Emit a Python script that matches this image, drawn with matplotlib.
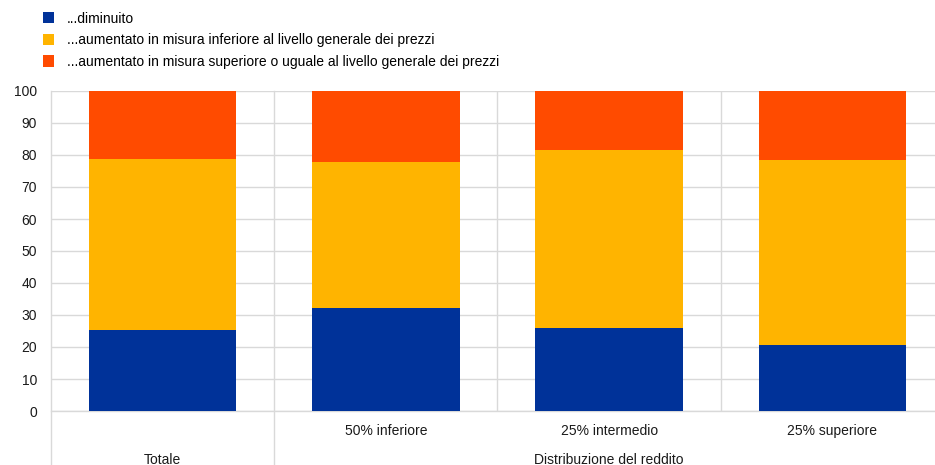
import matplotlib
matplotlib.use("Agg")
import matplotlib.pyplot as plt
from matplotlib.patches import Patch
import numpy as np

plt.rcParams['font.family'] = ['Liberation Sans', 'DejaVu Sans']

categories = ["", "50% inferiore", "25% intermedio", "25% superiore"]
group_labels = ["Totale", "Distribuzione del reddito"]
series_names = ["...diminuito",
                "...aumentato in misura inferiore al livello generale dei prezzi",
                "...aumentato in misura superiore o uguale al livello generale dei prezzi"]
diminuito = [25.3, 32.2, 25.8, 20.6]
aum_inferiore = [53.4, 45.6, 55.7, 57.9]
aum_superiore = [21.3, 22.2, 18.5, 21.5]
colors = ["#003299", "#FFB400", "#FF4B00"]
yticks = [0, 10, 20, 30, 40, 50, 60, 70, 80, 90, 100]

FS = 10
TC = "#1a1a1a"
W, H = 935, 465
fig = plt.figure(figsize=(W / 100, H / 100), dpi=100)
ax = fig.add_axes([51 / W, (H - 411) / H, (935 - 51) / W, 320 / H])

x = np.arange(len(categories))
bottom = np.zeros(len(categories))
for vals, c in zip([diminuito, aum_inferiore, aum_superiore], colors):
    ax.bar(x, vals, width=0.66, bottom=bottom, color=c, zorder=3, linewidth=0)
    bottom += np.array(vals)

ax.set_ylim(0, 100)
ax.set_xlim(-0.5, 3.46)
ax.set_yticks(yticks)
ax.set_yticklabels([str(v) for v in yticks], fontsize=FS, color=TC)
ax.tick_params(axis='y', length=0, pad=10)
ax.set_xticks([])
ax.yaxis.grid(True, color="#d9d9d9", linewidth=1, zorder=0)
for s in ["top", "right", "left"]:
    ax.spines[s].set_visible(False)
ax.spines["bottom"].set_color("#d9d9d9")
ax.spines["bottom"].set_linewidth(1)

trans = ax.get_xaxis_transform()
for xv in [1.5, 2.5]:
    ax.plot([xv, xv], [0, 1], color="#d9d9d9", lw=1, transform=trans, zorder=1)
for xv in [-0.5, 0.5]:
    ax.plot([xv, xv], [-0.2, 1], color="#d9d9d9", lw=1, transform=trans, zorder=1, clip_on=False)

for xi, lab in zip(x, categories):
    if lab:
        ax.text(xi, -0.064, lab, transform=trans, ha='center', va='center', fontsize=FS, color=TC)
ax.text(0, -0.152, group_labels[0], transform=trans, ha='center', va='center', fontsize=FS, color=TC)
ax.text(2, -0.152, group_labels[1], transform=trans, ha='center', va='center', fontsize=FS, color=TC)

handles = [Patch(facecolor=c, edgecolor='none') for c in colors]
fig.legend(handles, series_names, loc='upper left', bbox_to_anchor=(37 / W, 1 - 6 / H),
           frameon=False, fontsize=FS, handlelength=0.85, handleheight=0.85,
           handletextpad=0.9, labelspacing=0.55, borderaxespad=0)

fig.savefig("out.png", dpi=100)
